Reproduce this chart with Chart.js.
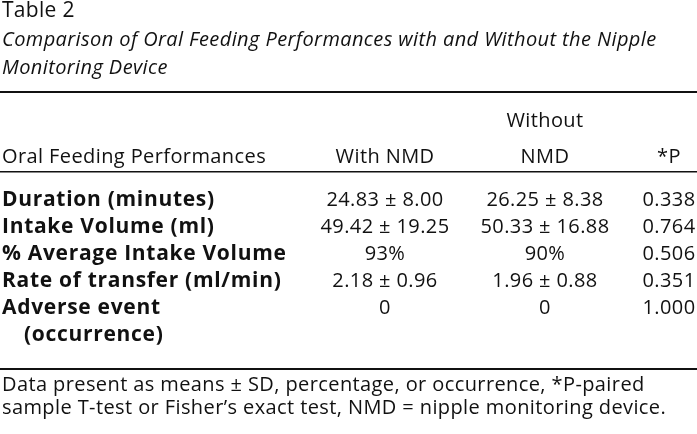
<!DOCTYPE html>
<html>
<head>
<meta charset="utf-8">
<script src="https://cdn.jsdelivr.net/npm/chart.js@4.4.0/dist/chart.umd.js"></script>
<style>
  html, body { margin: 0; padding: 0; background: #ffffff; }
  #wrap { width: 697px; height: 434px; }
</style>
</head>
<body>
<div id="wrap"><canvas id="tbl" width="697" height="434"></canvas></div>
<script>
// table content
const tableTitle = 'Table 2';
const tableCaption = ['Comparison of Oral Feeding Performances with and Without the Nipple', 'Monitoring Device'];
const headerLabels = ['Oral Feeding Performances', 'With NMD', ['Without', 'NMD'], '*P'];
const rowLabels = ['Duration (minutes)', 'Intake Volume (ml)', '% Average Intake Volume', 'Rate of transfer (ml/min)', ['Adverse event', '(occurrence)']];
const rowKinds = ['sd', 'sd', 'pct', 'sd', 'count'];
const withMean = [24.83, 49.42, 93, 2.18, 0];
const withSD = [8.00, 19.25, null, 0.96, null];
const withoutMean = [26.25, 50.33, 90, 1.96, 0];
const withoutSD = [8.38, 16.88, null, 0.88, null];
const pValues = [0.338, 0.764, 0.506, 0.351, 1.000];
const footnote = ['Data present as means \u00b1 SD, percentage, or occurrence, *P-paired', 'sample T-test or Fisher\u2019s exact test, NMD = nipple monitoring device.'];

// layout (scale units = pixels)
const colX = [2, 385, 545, 669];
const rowTop = 206, rowStep = 27;
const FONT = '"Open Sans", Lato, sans-serif';

function fmtCell(mean, sd, kind) {
    if (kind === 'sd') return mean.toFixed(2) + ' \u00b1 ' + sd.toFixed(2);
    if (kind === 'pct') return mean + '%';
    return String(mean);
}

// one point per cell, placed through the scales
const cellPoints = [];
rowLabels.forEach((lab, i) => {
    const y = rowTop + i * rowStep;
    cellPoints.push({ x: colX[1], y: y, text: fmtCell(withMean[i], withSD[i], rowKinds[i]) });
    cellPoints.push({ x: colX[2], y: y, text: fmtCell(withoutMean[i], withoutSD[i], rowKinds[i]) });
    cellPoints.push({ x: colX[3], y: y, text: pValues[i].toFixed(3) });
});

function setFont(ctx, font, spacing) {
    ctx.font = font;
    if ('letterSpacing' in ctx) ctx.letterSpacing = spacing + 'px';
}

const tablePlugin = {
    id: 'tablePlugin',
    afterDatasetsDraw(chart) {
        const ctx = chart.ctx;
        const xs = chart.scales.x, ys = chart.scales.y;
        const px = v => xs.getPixelForValue(v);
        const py = v => ys.getPixelForValue(v);
        ctx.save();
        ctx.fillStyle = '#111111';
        ctx.textBaseline = 'alphabetic';

        // title + caption
        ctx.textAlign = 'left';
        setFont(ctx, '21px ' + FONT, 0.3);
        ctx.fillText(tableTitle, px(2), py(17));
        setFont(ctx, 'italic 20px ' + FONT, 0.4);
        tableCaption.forEach((t, i) => ctx.fillText(t, px(2), py(46 + i * 28)));

        // rules
        ctx.fillRect(px(0), py(91), px(697) - px(0), 2);
        ctx.fillRect(px(0), py(171), px(697) - px(0), 1.5);
        ctx.fillRect(px(0), py(368), px(697) - px(0), 2);

        // header
        setFont(ctx, '20px ' + FONT, 0.4);
        ctx.textAlign = 'left';
        ctx.fillText(headerLabels[0], px(colX[0]), py(163));
        ctx.textAlign = 'center';
        ctx.fillText(headerLabels[1], px(colX[1]), py(163));
        ctx.fillText(headerLabels[2][0], px(colX[2]), py(127));
        ctx.fillText(headerLabels[2][1], px(colX[2]), py(163));
        ctx.fillText(headerLabels[3], px(colX[3]), py(163));

        // row labels
        setFont(ctx, 'bold 21px ' + FONT, 0.7);
        ctx.textAlign = 'left';
        rowLabels.forEach((lab, i) => {
            const y = rowTop + i * rowStep;
            if (Array.isArray(lab)) {
                ctx.fillText(lab[0], px(colX[0]), py(y));
                ctx.fillText(lab[1], px(colX[0] + 22), py(y + rowStep));
            } else {
                ctx.fillText(lab, px(colX[0]), py(y));
            }
        });

        // cells
        setFont(ctx, '20px ' + FONT, 0.4);
        ctx.textAlign = 'center';
        const meta = chart.getDatasetMeta(0);
        meta.data.forEach((pt, i) => {
            ctx.fillText(cellPoints[i].text, pt.x, pt.y);
        });

        // footnote
        setFont(ctx, '20px ' + FONT, 0.4);
        ctx.textAlign = 'left';
        footnote.forEach((t, i) => ctx.fillText(t, px(2), py(391 + i * 23)));
        ctx.restore();
    }
};

new Chart(document.getElementById('tbl'), {
    type: 'scatter',
    data: {
        datasets: [{
            data: cellPoints,
            pointRadius: 0,
            pointHoverRadius: 0
        }]
    },
    options: {
        responsive: false,
        animation: false,
        devicePixelRatio: 1,
        layout: { padding: 0 },
        plugins: { legend: { display: false }, tooltip: { enabled: false } },
        scales: {
            x: { type: 'linear', min: 0, max: 697, display: false },
            y: { type: 'linear', min: 0, max: 434, reverse: true, display: false }
        }
    },
    plugins: [tablePlugin]
});
</script>
</body>
</html>
